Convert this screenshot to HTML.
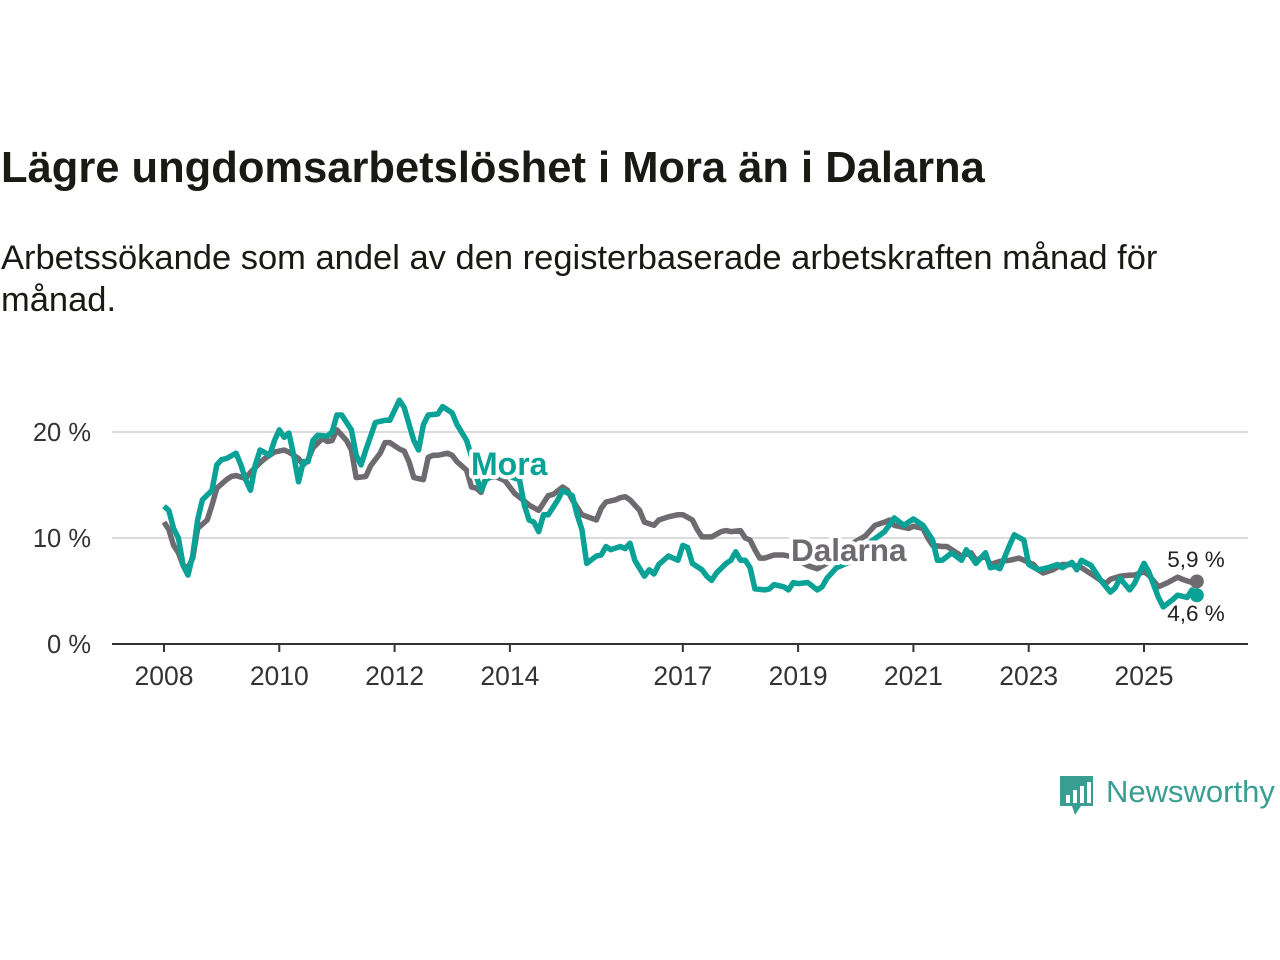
<!DOCTYPE html>
<html><head><meta charset="utf-8"><style>
body{margin:0;width:1280px;height:960px;background:#fff;font-family:"Liberation Sans","DejaVu Sans",sans-serif;overflow:hidden;position:relative}
#title{position:absolute;left:1px;top:144px;font-size:43.5px;font-weight:bold;color:#1a1a14;white-space:nowrap}
#sub{position:absolute;left:1px;top:237px;font-size:34.5px;line-height:42px;color:#1a1a14;white-space:nowrap}
svg{position:absolute;left:0;top:0}
</style></head><body>
<div id="title">Lägre ungdomsarbetslöshet i Mora än i Dalarna</div>
<div id="sub">Arbetssökande som andel av den registerbaserade arbetskraften månad för<br>månad.</div>
<svg id="chart" width="1280" height="960"></svg>
<script>
const yTicks=[0,10,20];
const yTickLabels=["0 %","10 %","20 %"];
const xTicks=[2008,2010,2012,2014,2017,2019,2021,2023,2025];
const moraMonths=[0,1,2,3,4,5,6,7,8,10,11,12,13,15,16,17,18,19,20,22,23,24,25,26,27,28,29,30,31,32,34,35,36,37,39,40,41,42,44,46,47,49,50,52,53,54,55,57,58,60,61,63,64,65,66,67,69,71,72,74,75,76,77,78,79,80,82,83,85,86,87,88,90,91,92,93,95,96,97,98,100,101,102,103,104,105,107,108,109,110,112,113,114,115,117,118,119,120,121,122,123,125,126,127,129,130,131,132,134,136,137,138,140,141,143,145,147,150,152,154,156,158,160,161,162,164,166,167,169,171,172,173,174,176,177,179,180,182,184,186,187,189,190,191,193,195,197,198,199,201,202,204,205,207,208,210,211,213,214,215];
const moraValues=[13.0,12.6,10.9,10.0,7.4,6.5,8.4,11.7,13.6,14.5,16.9,17.4,17.5,18.0,16.9,15.5,14.5,16.9,18.3,17.8,19.2,20.2,19.5,19.9,17.8,15.3,17.2,17.2,19.2,19.7,19.6,20.0,21.6,21.6,20.2,17.8,16.9,18.3,20.9,21.1,21.1,23.0,22.3,19.2,18.3,20.7,21.6,21.7,22.4,21.8,20.7,19.2,17.7,15.8,14.5,15.5,16.0,15.8,15.8,15.5,13.1,11.7,11.5,10.6,12.2,12.2,13.6,14.5,14.0,12.2,10.8,7.6,8.3,8.4,9.2,8.9,9.2,9.0,9.5,7.9,6.4,7.0,6.6,7.5,7.9,8.3,7.9,9.3,9.1,7.6,7.0,6.4,6.0,6.7,7.6,7.9,8.7,7.9,7.9,7.2,5.2,5.1,5.2,5.6,5.4,5.1,5.8,5.7,5.8,5.1,5.4,6.2,7.2,7.4,7.8,8.6,9.6,10.6,11.9,11.2,11.8,11.2,9.8,7.9,7.9,8.6,7.9,8.9,7.6,8.6,7.2,7.3,7.1,9.3,10.3,9.8,7.5,7.0,7.2,7.5,7.2,7.7,7.0,7.9,7.4,6.0,4.9,5.3,6.2,5.1,5.7,7.6,6.8,4.4,3.5,4.2,4.6,4.4,5.1,4.6];
const dalMonths=[0,1,2,3,4,5,6,7,9,10,11,13,14,15,17,18,20,21,23,25,26,28,29,30,31,33,34,35,36,38,39,40,42,43,45,46,47,49,50,51,52,54,55,56,57,59,60,61,63,64,65,66,67,69,71,73,75,76,78,80,81,83,84,85,87,90,91,92,94,95,96,97,99,100,102,103,105,107,108,110,111,112,114,116,117,118,120,121,122,123,124,125,127,128,129,131,134,136,138,140,143,146,148,150,151,152,155,156,158,159,160,162,163,164,166,168,169,171,172,174,176,178,179,181,182,183,185,187,189,191,193,195,196,197,199,201,202,204,205,207,209,211,212,214,215];
const dalValues=[11.5,10.8,9.3,8.6,7.4,7.2,8.1,10.9,11.7,13.1,14.7,15.5,15.8,15.9,15.6,16.2,17.1,17.5,18.1,18.3,18.1,17.5,16.9,17.4,18.5,19.4,19.1,19.2,20.2,19.2,18.3,15.7,15.8,16.8,18.0,19.0,19.0,18.4,18.2,17.2,15.7,15.5,17.6,17.8,17.8,18.0,17.8,17.2,16.4,14.8,14.7,14.3,15.7,15.8,15.4,14.2,13.5,13.1,12.6,14.0,14.1,14.8,14.5,13.6,12.2,11.7,12.8,13.4,13.6,13.8,13.9,13.6,12.6,11.5,11.2,11.7,12.0,12.2,12.2,11.7,10.8,10.1,10.1,10.6,10.7,10.6,10.7,10.0,9.8,8.9,8.1,8.1,8.4,8.4,8.4,8.2,7.4,7.1,7.6,8.4,9.4,10.2,11.2,11.5,11.7,11.2,10.9,11.1,10.9,10.0,9.3,9.2,9.2,8.9,8.3,8.6,7.9,8.3,7.5,7.8,7.9,8.1,7.9,7.5,7.0,6.7,7.0,7.5,7.5,7.2,6.6,6.0,5.7,6.1,6.4,6.5,6.5,6.8,6.5,5.4,5.8,6.3,6.1,5.8,5.9];
const svg=document.getElementById('chart');
const NS='http://www.w3.org/2000/svg';
const X0=164,PX_YEAR=57.647,Y0=644,PX_PCT=10.6;
function xm(m){return X0+m/12*PX_YEAR;}
function xy(yr){return X0+(yr-2008)*PX_YEAR;}
function yv(v){return Y0-v*PX_PCT;}
function mk(tag,attrs){const e=document.createElementNS(NS,tag);for(const k in attrs)e.setAttribute(k,attrs[k]);svg.appendChild(e);return e;}
yTicks.forEach((t,i)=>{
  if(t>0){const g=mk('line',{x1:112,x2:1248,y1:yv(t),y2:yv(t),stroke:'#dcdcdc','stroke-width':2});
  
  }
  const l=mk('text',{x:91,y:yv(t)+9,'text-anchor':'end','font-size':25.5,fill:'#333','font-family':'Liberation Sans, sans-serif'});
  l.textContent=yTickLabels[i];
  
  
});
const ax=mk('line',{x1:112,x2:1248,y1:Y0,y2:Y0,stroke:'#333','stroke-width':2});


xTicks.forEach(yr=>{
  const t=mk('line',{x1:xy(yr),x2:xy(yr),y1:Y0,y2:Y0+8,stroke:'#333','stroke-width':2});
  
  
  const l=mk('text',{x:xy(yr),y:685,'text-anchor':'middle','font-size':26.5,fill:'#333','font-family':'Liberation Sans, sans-serif'});
  l.textContent=yr;
  
  
});
function line(ms,vs,color,name){
  const d=ms.map((m,i)=>(i?'L':'M')+xm(m).toFixed(1)+','+yv(vs[i]).toFixed(1)).join('');
  const p=mk('path',{d:d,fill:'none',stroke:color,'stroke-width':5.5,'stroke-linejoin':'round'});
  
  
}
line(dalMonths,dalValues,'#6e6b70','dalarna-line');
line(moraMonths,moraValues,'#0aa296','mora-line');
function lbl(x,y,txt,color,size,name){
  const t=mk('text',{x:x,y:y,'font-size':size,'font-weight':'bold',fill:color,stroke:'#fff','stroke-width':8,'paint-order':'stroke','stroke-linejoin':'round','font-family':'Liberation Sans, sans-serif'});
  t.textContent=txt;
  
  
}
lbl(471,475,'Mora','#0aa296',32,'mora-series-label');
lbl(791,561,'Dalarna','#6e6b70',31.5,'dalarna-series-label');
const dm=dalMonths[dalMonths.length-1],dv=dalValues[dalValues.length-1];
const mm=moraMonths[moraMonths.length-1],mv=moraValues[moraValues.length-1];
const d1=mk('circle',{cx:xm(dm),cy:yv(dv),r:7,fill:'#6e6b70'});


const d2=mk('circle',{cx:xm(mm),cy:yv(mv),r:7,fill:'#0aa296'});


function endl(x,y,txt,name){
  const t=mk('text',{x:x,y:y,'font-size':22.5,fill:'#222','text-anchor':'middle',stroke:'#fff','stroke-width':5,'paint-order':'stroke','font-family':'Liberation Sans, sans-serif'});
  t.textContent=txt;
  
  
}
endl(1196,567,'5,9 %','dalarna-end-value');
endl(1196,621,'4,6 %','mora-end-value');
const lg=mk('g',{});


const r=document.createElementNS(NS,'path');
r.setAttribute('d','M1060,776 h33 v30 h-12 l-6,9 l-3,-9 h-12 z');
r.setAttribute('fill','#3a9d92');
lg.appendChild(r);
[[1066,795],[1073,790],[1080,786],[1087,782]].forEach(b=>{
  const bb=document.createElementNS(NS,'rect');
  bb.setAttribute('x',b[0]);bb.setAttribute('y',b[1]);bb.setAttribute('width',4);bb.setAttribute('height',803-b[1]);bb.setAttribute('fill','#fff');
  lg.appendChild(bb);
});
const lt=document.createElementNS(NS,'text');
lt.setAttribute('x',1106);lt.setAttribute('y',802);lt.setAttribute('font-size',31);lt.setAttribute('fill','#3a9d92');lt.setAttribute('font-family','Liberation Sans, sans-serif');
lt.textContent='Newsworthy';
lg.appendChild(lt);
svg.appendChild(lg);
</script>
</body></html>
